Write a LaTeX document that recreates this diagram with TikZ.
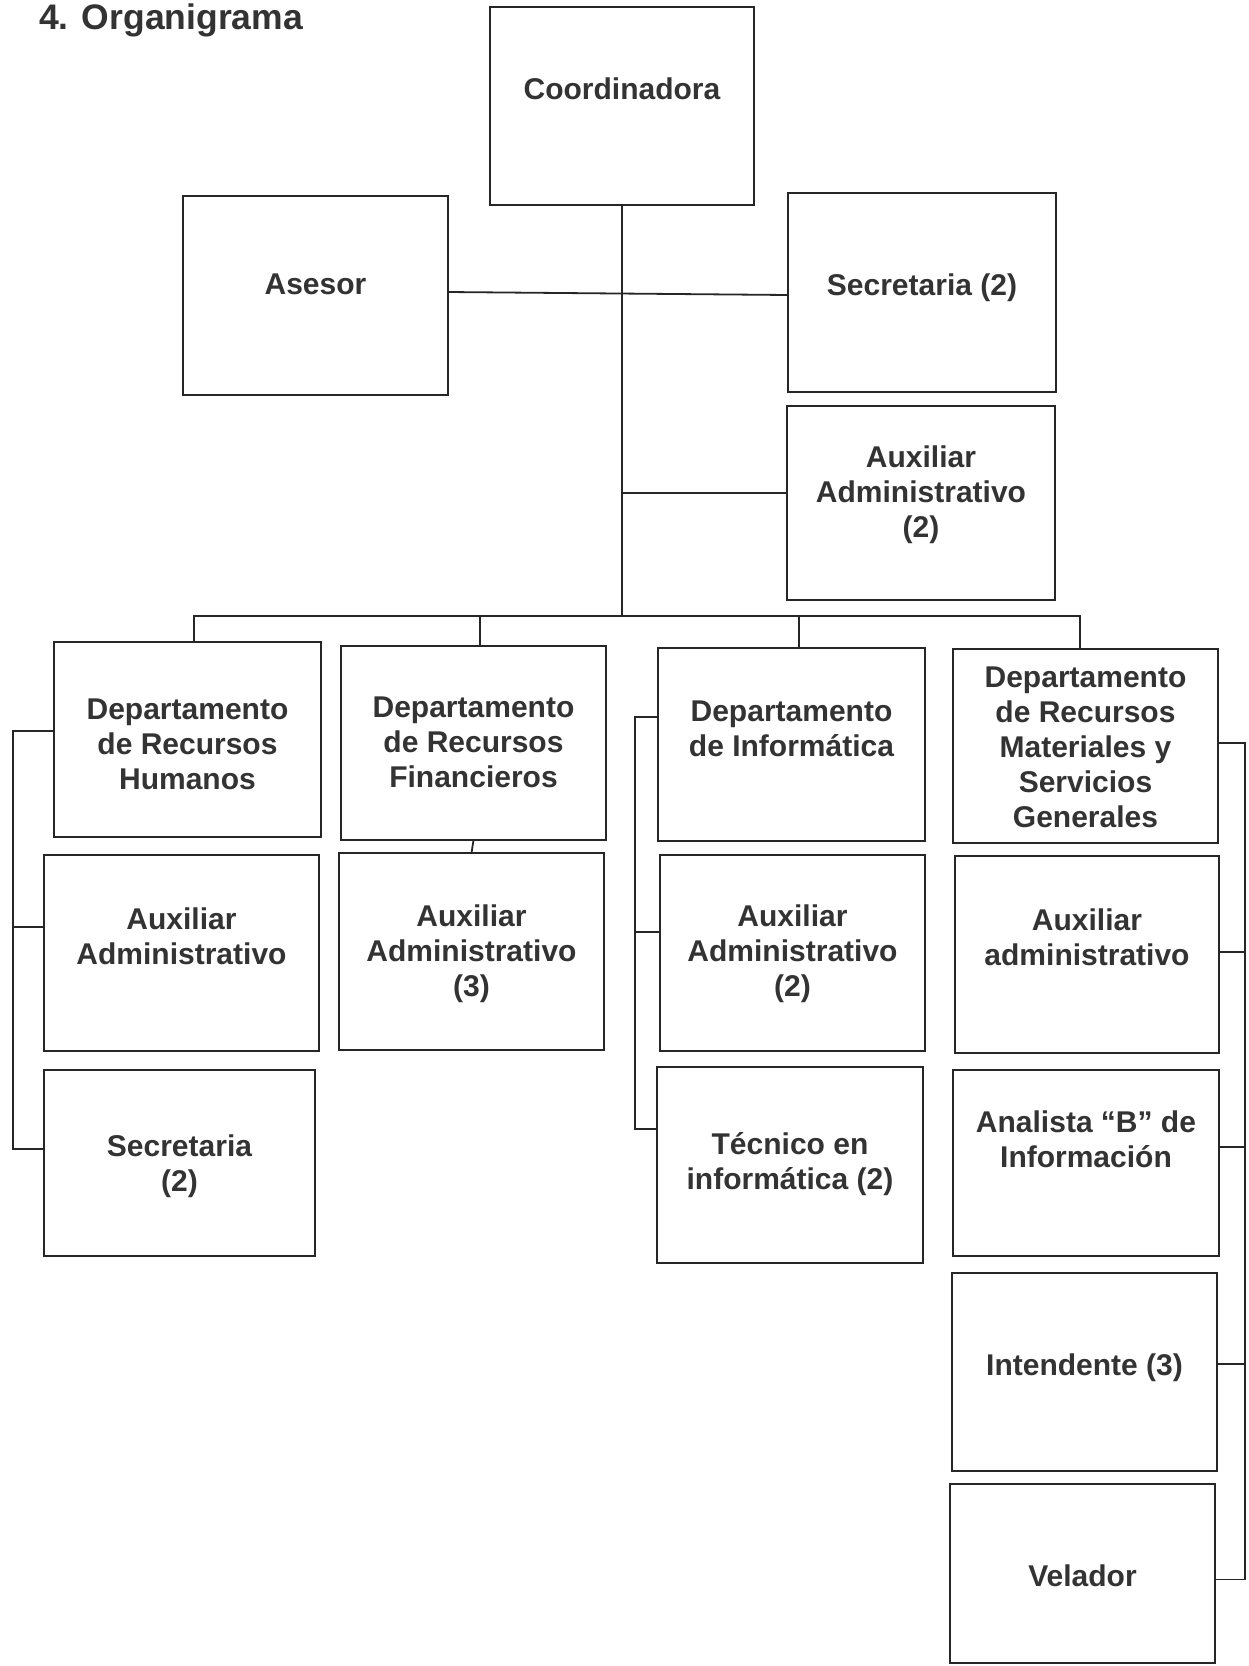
\documentclass[tikz,border=0pt]{standalone}
\usepackage{fontspec}
\setmainfont{Liberation Sans}
\usetikzlibrary{calc}
\newcommand{\orgbox}[7]{%
  \node[box, minimum width={#4-#2}, minimum height={#5-#3}] (#1) at ({(#2+#4)/2},{(#3+#5)/2}) {};
  \node[txt] (#1t) at ({(#2+#4)/2},#6) {#7};
}
\begin{document}
\begin{tikzpicture}[x=1pt,y=-1pt,
  box/.style={draw=black!85, line width=1.8pt, inner sep=0pt, outer sep=0pt},
  txt/.style={text=black!80, font=\fontsize{30}{35}\selectfont\bfseries, align=center, inner sep=0pt},
  conn/.style={draw=black!85, line width=1.8pt},
  ttl/.style={text=black!80, font=\fontsize{35.5}{40}\selectfont\bfseries, anchor=base west, inner sep=0pt}]
\useasboundingbox[fill=white] (0,0) rectangle (1249,1666);
\node[ttl] (title) at (39,29) {4. Organigrama};

\orgbox{coord}{490}{7}{754}{205}{89}{Coordinadora}
\orgbox{ases}{183}{196}{448}{395}{284}{Asesor}
\orgbox{sec}{788}{193}{1056}{392}{288}{Secretaria (2)}
\orgbox{aux}{787}{406}{1055}{600}{495}{Auxiliar\\Administrativo\\(2)}
\orgbox{rh}{54}{642}{321}{837}{744}{Departamento\\de Recursos\\Humanos}
\orgbox{rf}{341}{646}{606}{840}{742}{Departamento\\de Recursos\\Financieros}
\orgbox{inf}{658}{648}{925}{841}{729}{Departamento\\de Informática}
\orgbox{rm}{953}{649}{1218}{843}{747}{Departamento\\de Recursos\\Materiales y\\Servicios\\Generales}
\orgbox{rhaux}{44}{855}{319}{1051}{936}{Auxiliar\\Administrativo}
\orgbox{rfaux}{339}{853}{604}{1050}{954}{Auxiliar\\Administrativo\\(3)}
\orgbox{infaux}{660}{855}{925}{1051}{954}{Auxiliar\\Administrativo\\(2)}
\orgbox{rmaux}{955}{856}{1219}{1053}{937}{Auxiliar\\administrativo}
\orgbox{rhsec}{44}{1070}{315}{1256}{1166}{Secretaria\\(2)}
\orgbox{tec}{657}{1067}{923}{1263}{1164}{Técnico en\\informática (2)}
\orgbox{ana}{953}{1070}{1219}{1256}{1139}{Analista “B” de\\Información}
\orgbox{int}{952}{1273}{1217}{1471}{1368}{Intendente (3)}
\orgbox{vel}{950}{1484}{1215}{1663}{1576}{Velador}

% top connectors
\coordinate (bus) at (622,616);
\draw[conn] (coord.south) -- (coord.south |- bus);
\coordinate (s1) at ([yshift=3.5pt]ases.east);
\coordinate (s2) at ([yshift=-2.5pt]sec.west);
\draw[conn] (s1) -- (s2);
\coordinate (x1) at ([yshift=10pt]aux.west);
\draw[conn] (x1) -- (x1 -| coord.south);
\coordinate (d1) at ([xshift=6.5pt]rh.north);
\coordinate (d2) at ([xshift=6.5pt]rf.north);
\coordinate (d3) at ([xshift=7.5pt]inf.north);
\coordinate (d4) at ([xshift=-5.5pt]rm.north);
\draw[conn] (d1) -- (d1 |- bus) -- (d4 |- bus) -- (d4);
\draw[conn] (d2) -- (d2 |- bus);
\draw[conn] (d3) -- (d3 |- bus);
\draw[conn] (rf.south) -- (rfaux.north);

% left bracket (Recursos Humanos)
\coordinate (lb) at (13,0);
\coordinate (a1) at ([yshift=8.5pt]rh.west);
\coordinate (a2) at ([yshift=26pt]rhaux.west);
\coordinate (a3) at ([yshift=14pt]rhsec.west);
\draw[conn] (a1) -- (a1 -| lb) -- (a3 -| lb) -- (a3);
\draw[conn] (a2) -- (a2 -| lb);

% informatica bracket
\coordinate (ib) at (635,0);
\coordinate (b1) at ([yshift=27.5pt]inf.west);
\coordinate (b2) at ([yshift=21pt]infaux.west);
\coordinate (b3) at ([yshift=36pt]tec.west);
\draw[conn] (b1) -- (b1 -| ib) -- (b3 -| ib) -- (b3);
\draw[conn] (b2) -- (b2 -| ib);

% right bracket (Recursos Materiales)
\coordinate (rb) at (1245,0);
\coordinate (c1) at ([yshift=3pt]rm.east);
\coordinate (c2) at ([yshift=2.5pt]rmaux.east);
\coordinate (c3) at ([yshift=16pt]ana.east);
\coordinate (c4) at ([yshift=8pt]int.east);
\coordinate (c5) at ([yshift=-6pt]vel.east);
\draw[conn] (c1) -- (c1 -| rb) -- (c5 -| rb) -- (c5);
\draw[conn] (c2) -- (c2 -| rb);
\draw[conn] (c3) -- (c3 -| rb);
\draw[conn] (c4) -- (c4 -| rb);
\end{tikzpicture}
\end{document}
